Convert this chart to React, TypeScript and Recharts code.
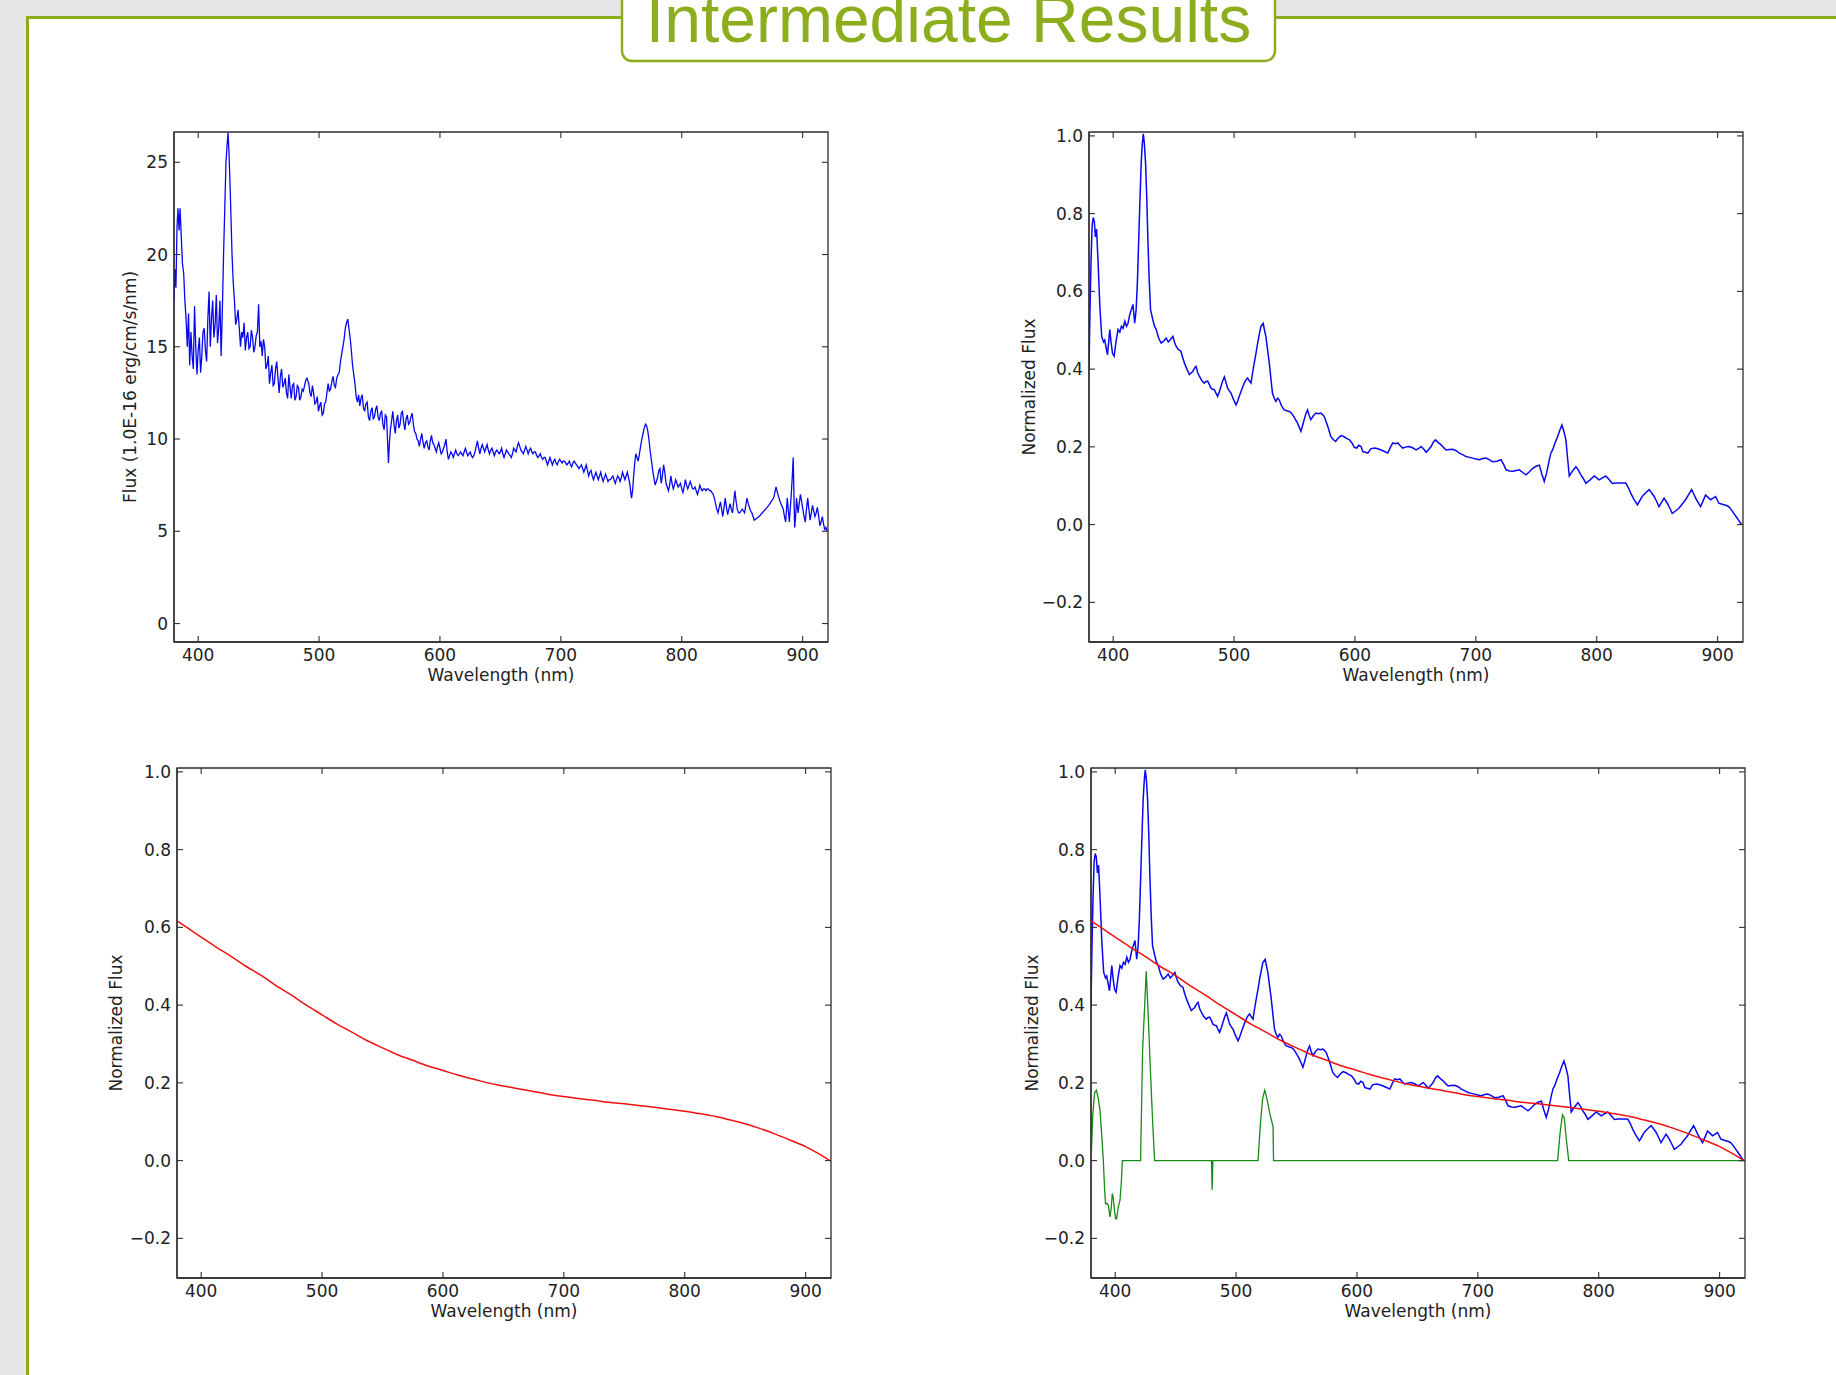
import React from 'react';
import { LineChart, Line, XAxis, YAxis, Label, ReferenceArea } from 'recharts';

// ---------- data ----------
const X_DOMAIN: [number, number] = [380, 921];
const X_TICKS = [400, 500, 600, 700, 800, 900];
const FLUX_TICKS = [0, 5, 10, 15, 20, 25];
const NORM_TICKS = [-0.2, 0, 0.2, 0.4, 0.6, 0.8, 1.0];

// calibrated spectrum: [wavelength nm, flux 1e-16 erg/cm/s/nm]
const RAW_FLUX: [number, number][] = [
  [380, 17.5], [380.8, 19.2], [381.6, 18.2], [382.5, 21.5], [383.3, 22.5], [384.2, 21.3], [385, 22.5], [386, 21],
  [387, 19.5], [388, 19], [389, 17.5], [390, 16.5], [391, 15], [392, 16.8], [393, 14], [394, 15.8], [395, 14.5],
  [396, 13.8], [397, 17.2], [398, 15], [399, 13.5], [400, 14.8], [401, 15.5], [402, 13.6], [403, 14.5], [404, 15.8],
  [405, 16], [406, 14.8], [407, 14.2], [408, 16.5], [409, 18], [410, 15], [411, 16.5], [412, 17.5], [413, 15.5],
  [414, 16.2], [415, 17.8], [416, 15.2], [417, 16], [418, 17.5], [419, 14.5], [420, 17], [421, 20], [422, 22.5],
  [423, 25], [424, 26], [424.7, 26.6], [425.5, 25.5], [426.5, 23.5], [428, 20], [429, 18.5], [430, 17.5], [431, 16.2],
  [432, 16.5], [433, 17], [434, 16], [435, 15], [436, 15.8], [437, 15.5], [438, 16.3], [439, 14.8], [440, 15.5],
  [441, 15.8], [442, 14.9], [443, 15], [444, 15.9], [445, 15.5], [446, 14.7], [447, 15], [448, 15.6], [449, 15.8],
  [450, 17.3], [451, 15], [452, 15.3], [453, 14.5], [454, 15.4], [455, 15], [456, 13.8], [457, 14], [458, 14.5],
  [459, 13], [460, 13.6], [461, 14], [462, 12.9], [463, 13], [464, 13.8], [465, 14.2], [466, 13.3], [467, 12.5],
  [468, 13.4], [469, 13.8], [470, 12.8], [471, 13], [472, 13.3], [473, 12.5], [474, 12.2], [475, 13.5], [476, 12.8],
  [477, 12.2], [478, 12.9], [479, 13], [480, 12.1], [481, 12.3], [482, 12.9], [483, 12.8], [484, 12.1], [485, 12.3],
  [486, 12.7], [487, 12.6], [488, 12.9], [489, 13.2], [490, 13.3], [491.5, 13], [492.5, 12.5], [493.5, 12.3],
  [494.5, 12.9], [495.5, 12.5], [496.5, 11.9], [497.5, 12], [498.5, 12.3], [499.5, 11.5], [500.5, 11.8], [501.5, 12],
  [502.5, 11.3], [503.5, 11.4], [504.5, 11.9], [505.5, 12], [506.5, 12.5], [507.5, 13], [508.5, 12.6], [509.5, 12.7],
  [510.5, 13.1], [511.6, 13.4], [512.6, 12.9], [513.6, 12.8], [514.6, 13.3], [515.7, 13.5], [516.7, 13.6],
  [517.7, 14.2], [518.7, 14.6], [519.7, 15], [520.7, 15.4], [521.7, 16], [522.7, 16.3], [523.7, 16.5], [524.7, 16],
  [525.7, 15.5], [526.7, 14.8], [527.7, 14], [528.7, 13.5], [529.7, 13], [530.7, 12.3], [531.7, 12], [532.7, 12.4],
  [533.7, 11.8], [534.7, 12.2], [535.7, 12.4], [536.7, 11.7], [537.7, 11.5], [538.7, 11.9], [539.8, 12], [540.8, 11.2],
  [541.8, 11], [542.8, 11.5], [543.8, 11.7], [544.8, 11.1], [545.8, 11.2], [546.8, 11.6], [547.8, 11.8], [548.8, 11.2],
  [549.8, 11], [550.8, 11.4], [551.8, 11.5], [552.8, 10.8], [553.8, 10.5], [554.8, 11.3], [555.8, 11.2], [556.6, 10],
  [557.4, 8.7], [558.2, 9.8], [559, 10.5], [560, 11], [561, 11.5], [562, 10.8], [563, 10.3], [564, 11], [565, 11.3],
  [566, 10.6], [567, 10.8], [568, 11.4], [569, 11.5], [570, 10.9], [571, 10.5], [572, 11.1], [573, 11.3], [574, 10.8],
  [575, 10.9], [576, 11.2], [577, 11.4], [578, 10.8], [579, 10.4], [580, 10.3], [581, 10], [582, 9.9], [583, 9.6],
  [584, 10], [585, 10.3], [586, 9.8], [587, 9.5], [588, 9.8], [589, 9.9], [590, 9.6], [591, 9.4], [592, 9.9],
  [593, 10.2], [594, 9.8], [595, 9.7], [596, 9.5], [597, 9.3], [598, 9.6], [599, 9.8], [600, 9.5], [601, 9.2],
  [602, 9.3], [603, 9.5], [604, 9.7], [605, 10], [606, 9.3], [607, 8.9], [608, 9.1], [609, 9.3], [610, 9.2], [611, 9],
  [612, 9.2], [613, 9.4], [614, 9.2], [615, 9.1], [616, 9.2], [617, 9.3], [618, 9.2], [619, 9.1], [620, 9.3],
  [621, 9.5], [622, 9.3], [623, 9.1], [624, 9.2], [625, 9.3], [626, 9.1], [627, 9.0], [628, 9.1], [629, 9.3],
  [630, 9.6], [631, 9.9], [632, 9.5], [633, 9.2], [634, 9.5], [635, 9.7], [636, 9.5], [637, 9.3], [638, 9.5],
  [639, 9.7], [640, 9.4], [641, 9.2], [642, 9.4], [643, 9.5], [644, 9.3], [645, 9.1], [646, 9.3], [647, 9.4],
  [648, 9.3], [649, 9.2], [650, 9.3], [651, 9.5], [652, 9.2], [653, 9.0], [654, 9.2], [655, 9.4], [656, 9.3],
  [657, 9.2], [658, 9.1], [659, 9.0], [660, 9.2], [661, 9.5], [662, 9.4], [663, 9.3], [664, 9.6], [665, 9.8],
  [666, 9.6], [667, 9.4], [668, 9.3], [669, 9.2], [670, 9.4], [671, 9.6], [672, 9.4], [673, 9.2], [674, 9.4],
  [675, 9.5], [676, 9.3], [677, 9.2], [678, 9.3], [679, 9.3], [680, 9.1], [681, 9.0], [682, 9.1], [683, 9.2],
  [684, 9.0], [685, 8.9], [686, 9.0], [687, 9.0], [688, 8.8], [689, 8.6], [690, 8.8], [691, 9.0], [692, 8.8],
  [693, 8.6], [694, 8.8], [695, 8.9], [696, 8.7], [697, 8.6], [698, 8.8], [699, 8.9], [700, 8.8], [701, 8.7],
  [702, 8.8], [703, 8.8], [704, 8.7], [705, 8.6], [706, 8.7], [707, 8.8], [708, 8.6], [709, 8.5], [710, 8.7],
  [711, 8.8], [712, 8.7], [713, 8.6], [714, 8.5], [715, 8.4], [716, 8.5], [717, 8.6], [718, 8.4], [719, 8.2],
  [720, 8.4], [721, 8.6], [722, 8.3], [723, 8.0], [724, 8.2], [725, 8.3], [726, 8.0], [727, 7.8], [728, 8.0],
  [729, 8.2], [730, 8.0], [731, 7.8], [732, 8.0], [733, 8.2], [734, 7.9], [735, 7.7], [736, 7.9], [737, 8.1],
  [738, 7.9], [739, 7.7], [740, 7.8], [741, 7.8], [742, 7.9], [743, 8.0], [744, 7.8], [745, 7.6], [746, 7.8],
  [747, 8.0], [748, 7.9], [749, 7.7], [750, 7.9], [751, 8.2], [752, 8.0], [753, 7.8], [754, 8.0], [755, 8.2],
  [756, 7.9], [757, 7.6], [758, 7.0], [758.5, 6.8], [759.5, 7.3], [760, 7.8], [761, 8.6], [762, 9.2], [763, 9.0],
  [764, 8.8], [765, 9.2], [766, 9.6], [767, 10.0], [768, 10.3], [769, 10.6], [770, 10.8], [771, 10.7], [772, 10.4],
  [773, 9.9], [774, 9.3], [775, 8.8], [776, 8.3], [777, 7.9], [778, 7.5], [779, 7.7], [780, 7.9], [781, 8.3],
  [782, 8.4], [783, 7.6], [784, 8.0], [785, 8.6], [786, 8.2], [787, 7.6], [788, 7.4], [789, 7.2], [790, 7.5],
  [791, 8.0], [792, 7.6], [793, 7.3], [794, 7.5], [795, 7.8], [796, 7.6], [797, 7.4], [798, 7.5], [799, 7.6],
  [800, 7.3], [801, 7.1], [802, 7.4], [803, 7.8], [804, 7.5], [805, 7.3], [806, 7.5], [807, 7.7], [808, 7.5],
  [809, 7.3], [810, 7.3], [811, 7.4], [812, 7.2], [813, 7.0], [814, 7.2], [815, 7.5], [816, 7.3], [817, 7.2],
  [818, 7.3], [819, 7.3], [820, 7.2], [821, 7.3], [822, 7.3], [823, 7.2], [824, 7.2], [825, 7.1], [826, 7.0],
  [827, 6.8], [828, 6.5], [829, 6.2], [830, 6.0], [831, 6.3], [832, 6.6], [833, 6.2], [834, 5.8], [835, 6.3],
  [836, 6.8], [837, 6.3], [838, 5.9], [839, 6.2], [840, 6.5], [841, 6.2], [842, 6.0], [843, 6.6], [844, 7.2],
  [845, 6.6], [846, 6.2], [847, 6.0], [848, 6.0], [849, 6.1], [850, 6.2], [851, 6.1], [852, 6.0], [853, 6.4],
  [854, 6.8], [855, 6.5], [856, 6.3], [857, 6.1], [858, 6.0], [859, 5.8], [860, 5.6], [864, 5.8], [868, 6.1],
  [872, 6.4], [876, 6.8], [878, 7.4], [880, 6.9], [882, 6.5], [884, 6.2], [885, 5.8], [886, 5.5], [887.3, 6.8],
  [889, 5.5], [890.6, 7.0], [891.5, 8.0], [892.2, 9.0], [893.4, 5.2], [894.2, 5.8], [895, 6.8], [896.2, 6.0],
  [897.2, 6.5], [898.2, 7.0], [899.2, 6.6], [900.2, 6.2], [901.2, 5.8], [902.2, 5.5], [903.2, 6.2], [904.2, 6.8],
  [905.2, 6.2], [906.2, 5.6], [907.2, 6.0], [908.2, 6.4], [909.2, 6.1], [910.2, 5.8], [911.2, 6.0], [912.2, 6.3],
  [913.3, 5.8], [914.3, 5.3], [915.3, 5.5], [916.3, 5.8], [917.3, 5.4], [918.3, 5.1], [919.3, 5.2], [920.3, 5.0],
];

// smoothed, normalized spectrum: [wavelength nm, normalized flux]
const NORM_FLUX: [number, number][] = [
  [380, 0.40], [380.8, 0.55], [381.7, 0.68], [382.6, 0.77], [383.5, 0.79], [384.4, 0.78], [385.3, 0.74], [386.3, 0.76],
  [387.7, 0.66], [389, 0.56], [390.5, 0.484], [392, 0.47], [393, 0.475], [394.2, 0.455], [395.3, 0.437], [396.3, 0.47],
  [397.2, 0.502], [398.2, 0.47], [399.5, 0.44], [400.8, 0.433], [402.3, 0.47], [404, 0.502], [405.5, 0.495],
  [406.8, 0.51], [408.2, 0.505], [409.6, 0.523], [411, 0.51], [412.3, 0.518], [413.7, 0.54], [415, 0.553],
  [416.4, 0.566], [417.8, 0.518], [419, 0.553], [420, 0.62], [421, 0.72], [422.2, 0.84], [423.2, 0.932], [424.1, 0.98],
  [424.9, 1.005], [425.8, 0.98], [426.8, 0.93], [427.8, 0.84], [428.7, 0.734], [429.8, 0.63], [430.9, 0.553],
  [432.8, 0.527], [434.2, 0.51], [435.6, 0.502], [437.6, 0.48], [439.7, 0.467], [441.7, 0.472], [443.8, 0.48],
  [445.6, 0.47], [447.4, 0.476], [449.4, 0.484], [450.7, 0.47], [452, 0.459], [454, 0.45], [456, 0.446], [457.5, 0.43],
  [458.9, 0.416], [461, 0.40], [463, 0.386], [464.4, 0.39], [465.8, 0.394], [467.2, 0.402], [468.5, 0.407], [470, 0.39],
  [471.3, 0.382], [473.4, 0.37], [475.4, 0.364], [476.8, 0.368], [478.2, 0.369], [479.6, 0.36], [480.9, 0.351],
  [482.3, 0.348], [483.7, 0.347], [485, 0.338], [486.4, 0.330], [487.8, 0.342], [489.2, 0.356], [490.6, 0.37],
  [492, 0.38], [493.4, 0.365], [494.7, 0.351], [496.1, 0.344], [497.5, 0.338], [499.5, 0.322], [501.6, 0.308],
  [503, 0.318], [504.3, 0.33], [506.4, 0.348], [508.4, 0.364], [509.8, 0.372], [511.2, 0.377], [512.6, 0.37],
  [514, 0.364], [515.3, 0.39], [516.7, 0.416], [518.1, 0.44], [519.5, 0.467], [520.9, 0.49], [522.2, 0.51],
  [524.1, 0.518], [525.2, 0.5], [526.3, 0.484], [527.7, 0.45], [529.1, 0.416], [530.5, 0.375], [531.8, 0.338],
  [533.2, 0.325], [534.6, 0.317], [536, 0.325], [537.3, 0.321], [539.4, 0.305], [541.5, 0.295], [543.6, 0.293],
  [545.6, 0.291], [547, 0.288], [548.4, 0.283], [550.5, 0.272], [552.5, 0.261], [554, 0.25], [555.3, 0.240],
  [556.7, 0.255], [558, 0.27], [559.4, 0.285], [560.8, 0.295], [562.2, 0.28], [563.5, 0.27], [565.6, 0.28],
  [567.7, 0.287], [569.7, 0.285], [571.8, 0.287], [573.2, 0.283], [574.6, 0.278], [577.3, 0.255], [580, 0.227],
  [582, 0.219], [584, 0.214], [586, 0.222], [588.5, 0.229], [591, 0.226], [593, 0.222], [595.5, 0.218], [597.5, 0.21],
  [599.5, 0.199], [601.5, 0.197], [603, 0.204], [605, 0.201], [606.5, 0.188], [608.5, 0.186], [610.7, 0.184],
  [613, 0.195], [616.2, 0.197], [619, 0.195], [621.7, 0.192], [624.5, 0.188], [627.2, 0.184], [629.5, 0.2],
  [631.3, 0.21], [633.5, 0.208], [635.5, 0.21], [637.5, 0.203], [639.6, 0.197], [642.5, 0.2], [645.1, 0.201],
  [648, 0.197], [650.6, 0.192], [652.8, 0.196], [654.8, 0.201], [657, 0.194], [658.9, 0.186], [661, 0.193],
  [663, 0.201], [664.8, 0.212], [666.6, 0.218], [669, 0.211], [671.3, 0.205], [673.4, 0.198], [675.4, 0.192],
  [678, 0.193], [680.9, 0.194], [683.7, 0.19], [686.4, 0.184], [689, 0.18], [691.9, 0.175], [694.6, 0.173],
  [697.4, 0.171], [700, 0.169], [702.9, 0.167], [705.6, 0.17], [708.4, 0.171], [711, 0.167], [713.9, 0.162],
  [717.4, 0.163], [720.8, 0.167], [723, 0.155], [725, 0.141], [727.8, 0.138], [730.5, 0.137], [733.3, 0.139],
  [736, 0.141], [738.8, 0.134], [741.5, 0.128], [744.3, 0.136], [747, 0.145], [749.8, 0.15], [752.5, 0.153],
  [754.6, 0.13], [756.6, 0.111], [758.7, 0.135], [760.8, 0.167], [762.2, 0.185], [763.5, 0.192], [765.5, 0.21],
  [767.6, 0.226], [769.4, 0.242], [771.2, 0.256], [772.8, 0.24], [774.5, 0.218], [775.9, 0.17], [777.3, 0.125],
  [780, 0.138], [782.8, 0.149], [784.8, 0.14], [786.9, 0.128], [789, 0.118], [791, 0.106], [794.5, 0.115],
  [797.9, 0.125], [800, 0.12], [802, 0.115], [804.7, 0.12], [807.5, 0.125], [810.2, 0.116], [813, 0.106],
  [815.7, 0.107], [818.5, 0.107], [821.2, 0.107], [824, 0.107], [826, 0.096], [828.1, 0.081], [830.8, 0.065],
  [833.6, 0.051], [835.7, 0.062], [837.8, 0.073], [840.5, 0.082], [843.3, 0.09], [845.3, 0.082], [847.4, 0.073],
  [849.5, 0.06], [851.5, 0.046], [853.6, 0.057], [855.7, 0.068], [858.4, 0.055], [860.5, 0.042], [862.5, 0.029],
  [865.2, 0.035], [868, 0.042], [870.7, 0.053], [873.5, 0.064], [876, 0.077], [878.5, 0.09], [880.1, 0.08],
  [881.8, 0.068], [883.8, 0.057], [885.9, 0.046], [888, 0.061], [890, 0.076], [892.1, 0.07], [894.2, 0.064],
  [896.3, 0.068], [898.3, 0.072], [899.7, 0.064], [901, 0.055], [903.1, 0.053], [905.2, 0.051], [907.3, 0.049],
  [909.3, 0.046], [911.4, 0.038], [913.4, 0.029], [916.1, 0.017], [918.9, 0.004], [920, 0.0],
];

// fitted continuum: [wavelength nm, normalized flux]
const CONTINUUM: [number, number][] = [
  [380, 0.617], [390, 0.596], [400, 0.575], [412, 0.55], [425, 0.525], [437, 0.5], [450, 0.476], [462, 0.45],
  [475, 0.425], [487, 0.4], [500, 0.375], [512, 0.352], [525, 0.33], [537, 0.309], [550, 0.29], [562, 0.273],
  [575, 0.258], [587, 0.244], [600, 0.232], [612, 0.22], [625, 0.21], [637, 0.2], [650, 0.192], [662, 0.185],
  [675, 0.178], [687, 0.171], [700, 0.165], [712, 0.16], [725, 0.155], [737, 0.15], [750, 0.146], [762, 0.142],
  [775, 0.137], [787, 0.132], [800, 0.127], [812, 0.121], [825, 0.114], [837, 0.105], [850, 0.095], [862, 0.083],
  [875, 0.068], [887, 0.053], [900, 0.036], [910, 0.019], [920, 0.0],
];

// emission/absorption residuals: [wavelength nm, normalized flux]
const LINE_RESIDUAL: [number, number][] = [
  [380.3, 0.02], [381.5, 0.12], [383, 0.175], [384.5, 0.181], [386, 0.16], [387.4, 0.13], [388.8, 0.07], [390.2, 0.0],
  [391.2, -0.07], [392, -0.111], [393.2, -0.11], [394.3, -0.115], [395.7, -0.145], [396.8, -0.12], [397.6, -0.085],
  [398.4, -0.095], [399.5, -0.13], [400.5, -0.15], [401.2, -0.15], [402.5, -0.12], [404, -0.102], [405.2, -0.05],
  [405.9, 0.0], [421, 0.0], [422.7, 0.285], [425.7, 0.487], [427.5, 0.36], [429, 0.242], [431, 0.1], [432.6, 0.0],
  [479.7, 0.0], [480.2, -0.075], [480.8, 0.0], [518.2, 0.0], [520, 0.09], [522, 0.16], [523.7, 0.181], [525.5, 0.16],
  [528, 0.12], [530.6, 0.087], [531, 0.0], [766, 0.0], [768, 0.07], [770, 0.118], [771.5, 0.11], [773, 0.06],
  [775.2, 0.0], [921, 0.0],
];

// ---------- styling ----------
const FONT = "'DejaVu Sans', sans-serif";
const FS = 17;
const TEXT = '#222';
const FRAME = '#2e2e2e';
const GREEN_UI = '#8cae1c';
const BLUE = '#0808f0';
const RED = '#f01010';
const GREEN = '#178a17';
const TICK_LEN = 6;

const toPoints = (arr: [number, number][]) => arr.map(([x, y]) => ({ x, y }));
const fmtNorm = (v: number) => {
  const s = v.toFixed(1);
  return v < 0 ? '\u2212' + s.slice(1) : s;
};

type Series = { data: { x: number; y: number }[]; color: string; width?: number; smooth?: boolean };

type PanelProps = {
  plotLeft: number;
  plotTop: number;
  plotW: number;
  plotH: number;
  yDomain: [number, number];
  yTicks: number[];
  yFormat: (v: number) => string;
  yLabel: string;
  yLabelGap: number;
  series: Series[];
};

const AXIS_W = 90;
const TOP_PAD = 10;
const RIGHT_PAD = 10;
const BOTTOM_H = 50;

function Panel(p: PanelProps) {
  const w = AXIS_W + p.plotW + RIGHT_PAD;
  const h = TOP_PAD + p.plotH + BOTTOM_H;
  const axisY = TOP_PAD + p.plotH;
  const rightX = AXIS_W + p.plotW;
  const line = { stroke: FRAME, strokeWidth: 1.3 };

  const xTick = (props: any) => {
    const x = props.x;
    return (
      <g>
        <line x1={x} x2={x} y1={axisY} y2={axisY - TICK_LEN} stroke={FRAME} strokeWidth={1.1} />
        <line x1={x} x2={x} y1={TOP_PAD} y2={TOP_PAD + TICK_LEN} stroke={FRAME} strokeWidth={1.1} />
        <text x={x} y={axisY + 19} textAnchor="middle" fontSize={FS} fontFamily={FONT} fill={TEXT}>
          {String(props.payload.value)}
        </text>
      </g>
    );
  };

  const yTick = (props: any) => {
    const y = props.y;
    return (
      <g>
        <line x1={AXIS_W} x2={AXIS_W + TICK_LEN} y1={y} y2={y} stroke={FRAME} strokeWidth={1.1} />
        <line x1={rightX} x2={rightX - TICK_LEN} y1={y} y2={y} stroke={FRAME} strokeWidth={1.1} />
        <text x={AXIS_W - 6} y={y + 6} textAnchor="end" fontSize={FS} fontFamily={FONT} fill={TEXT}>
          {p.yFormat(props.payload.value)}
        </text>
      </g>
    );
  };

  return (
    <div style={{ position: 'absolute', left: p.plotLeft - AXIS_W, top: p.plotTop - TOP_PAD }}>
      <LineChart width={w} height={h} margin={{ top: TOP_PAD, right: RIGHT_PAD, bottom: 0, left: 0 }}>
        <XAxis
          xAxisId="b"
          type="number"
          dataKey="x"
          orientation="bottom"
          domain={X_DOMAIN}
          ticks={X_TICKS}
          interval={0}
          allowDataOverflow
          height={BOTTOM_H}
          tickLine={false}
          tick={xTick}
          axisLine={line}
        >
          <Label
            content={() => (
              <text
                x={AXIS_W + p.plotW / 2}
                y={axisY + 33}
                textAnchor="middle"
                dominantBaseline="central"
                fontSize={FS}
                fontFamily={FONT}
                fill={TEXT}
              >
                Wavelength (nm)
              </text>
            )}
          />
        </XAxis>
        <YAxis
          yAxisId="l"
          type="number"
          orientation="left"
          domain={p.yDomain}
          ticks={p.yTicks}
          interval={0}
          allowDataOverflow
          width={AXIS_W}
          tickLine={false}
          tick={yTick}
          axisLine={line}
        >
          <Label
            content={() => {
              const cx = AXIS_W - p.yLabelGap;
              const cy = TOP_PAD + p.plotH / 2;
              return (
                <text
                  x={cx}
                  y={cy}
                  transform={`rotate(-90 ${cx} ${cy})`}
                  textAnchor="middle"
                  dominantBaseline="central"
                  fontSize={FS}
                  fontFamily={FONT}
                  fill={TEXT}
                >
                  {p.yLabel}
                </text>
              );
            }}
          />
        </YAxis>
        <ReferenceArea
          xAxisId="b"
          yAxisId="l"
          x1={X_DOMAIN[0]}
          x2={X_DOMAIN[1]}
          y1={p.yDomain[0]}
          y2={p.yDomain[1]}
          fill="none"
          fillOpacity={0}
          stroke={FRAME}
          strokeWidth={1.3}
          ifOverflow="visible"
        />
        {p.series.map((s, i) => (
          <Line
            key={i}
            xAxisId="b"
            yAxisId="l"
            data={s.data}
            dataKey="y"
            type={s.smooth ? 'monotone' : 'linear'}
            stroke={s.color}
            strokeWidth={s.width ?? 1.4}
            dot={false}
            activeDot={false}
            isAnimationActive={false}
          />
        ))}
      </LineChart>
    </div>
  );
}

export default function App() {
  const raw = toPoints(RAW_FLUX);
  const norm = toPoints(NORM_FLUX);
  const cont = toPoints(CONTINUUM);
  const resid = toPoints(LINE_RESIDUAL);
  const NORM_DOMAIN: [number, number] = [-0.302, 1.01];
  return (
    <div style={{ position: 'absolute', left: 0, top: 0, width: 1836, height: 1375, overflow: 'hidden', background: '#e6e6e6' }}>
      <svg width={1836} height={1375} style={{ position: 'absolute', left: 0, top: 0 }}>
        <rect x={27.5} y={17.5} width={1836} height={1400} fill="#ffffff" stroke={GREEN_UI} strokeWidth={3} />
        <rect x={622} y={-30} width={653} height={91} rx={10} ry={10} fill="#ffffff" stroke={GREEN_UI} strokeWidth={2.5} />
        <text x={948.5} y={42} textAnchor="middle" fontSize={66} fontFamily="'Liberation Sans', Arial, sans-serif" fill={GREEN_UI}>
          Intermediate Results
        </text>
      </svg>
      <Panel
        plotLeft={174}
        plotTop={132}
        plotW={654}
        plotH={510}
        yDomain={[-1, 26.64]}
        yTicks={FLUX_TICKS}
        yFormat={(v) => String(v)}
        yLabel="Flux (1.0E-16 erg/cm/s/nm)"
        yLabelGap={44}
        series={[{ data: raw, color: BLUE, width: 1.3 }]}
      />
      <Panel
        plotLeft={1089}
        plotTop={132}
        plotW={654}
        plotH={510}
        yDomain={NORM_DOMAIN}
        yTicks={NORM_TICKS}
        yFormat={fmtNorm}
        yLabel="Normalized Flux"
        yLabelGap={60}
        series={[{ data: norm, color: BLUE, width: 1.5 }]}
      />
      <Panel
        plotLeft={177}
        plotTop={768}
        plotW={654}
        plotH={510}
        yDomain={NORM_DOMAIN}
        yTicks={NORM_TICKS}
        yFormat={fmtNorm}
        yLabel="Normalized Flux"
        yLabelGap={61}
        series={[{ data: cont, color: RED, width: 1.5, smooth: true }]}
      />
      <Panel
        plotLeft={1091}
        plotTop={768}
        plotW={654}
        plotH={510}
        yDomain={NORM_DOMAIN}
        yTicks={NORM_TICKS}
        yFormat={fmtNorm}
        yLabel="Normalized Flux"
        yLabelGap={59}
        series={[
          { data: norm, color: BLUE, width: 1.5 },
          { data: cont, color: RED, width: 1.5, smooth: true },
          { data: resid, color: GREEN, width: 1.3 },
        ]}
      />
    </div>
  );
}
